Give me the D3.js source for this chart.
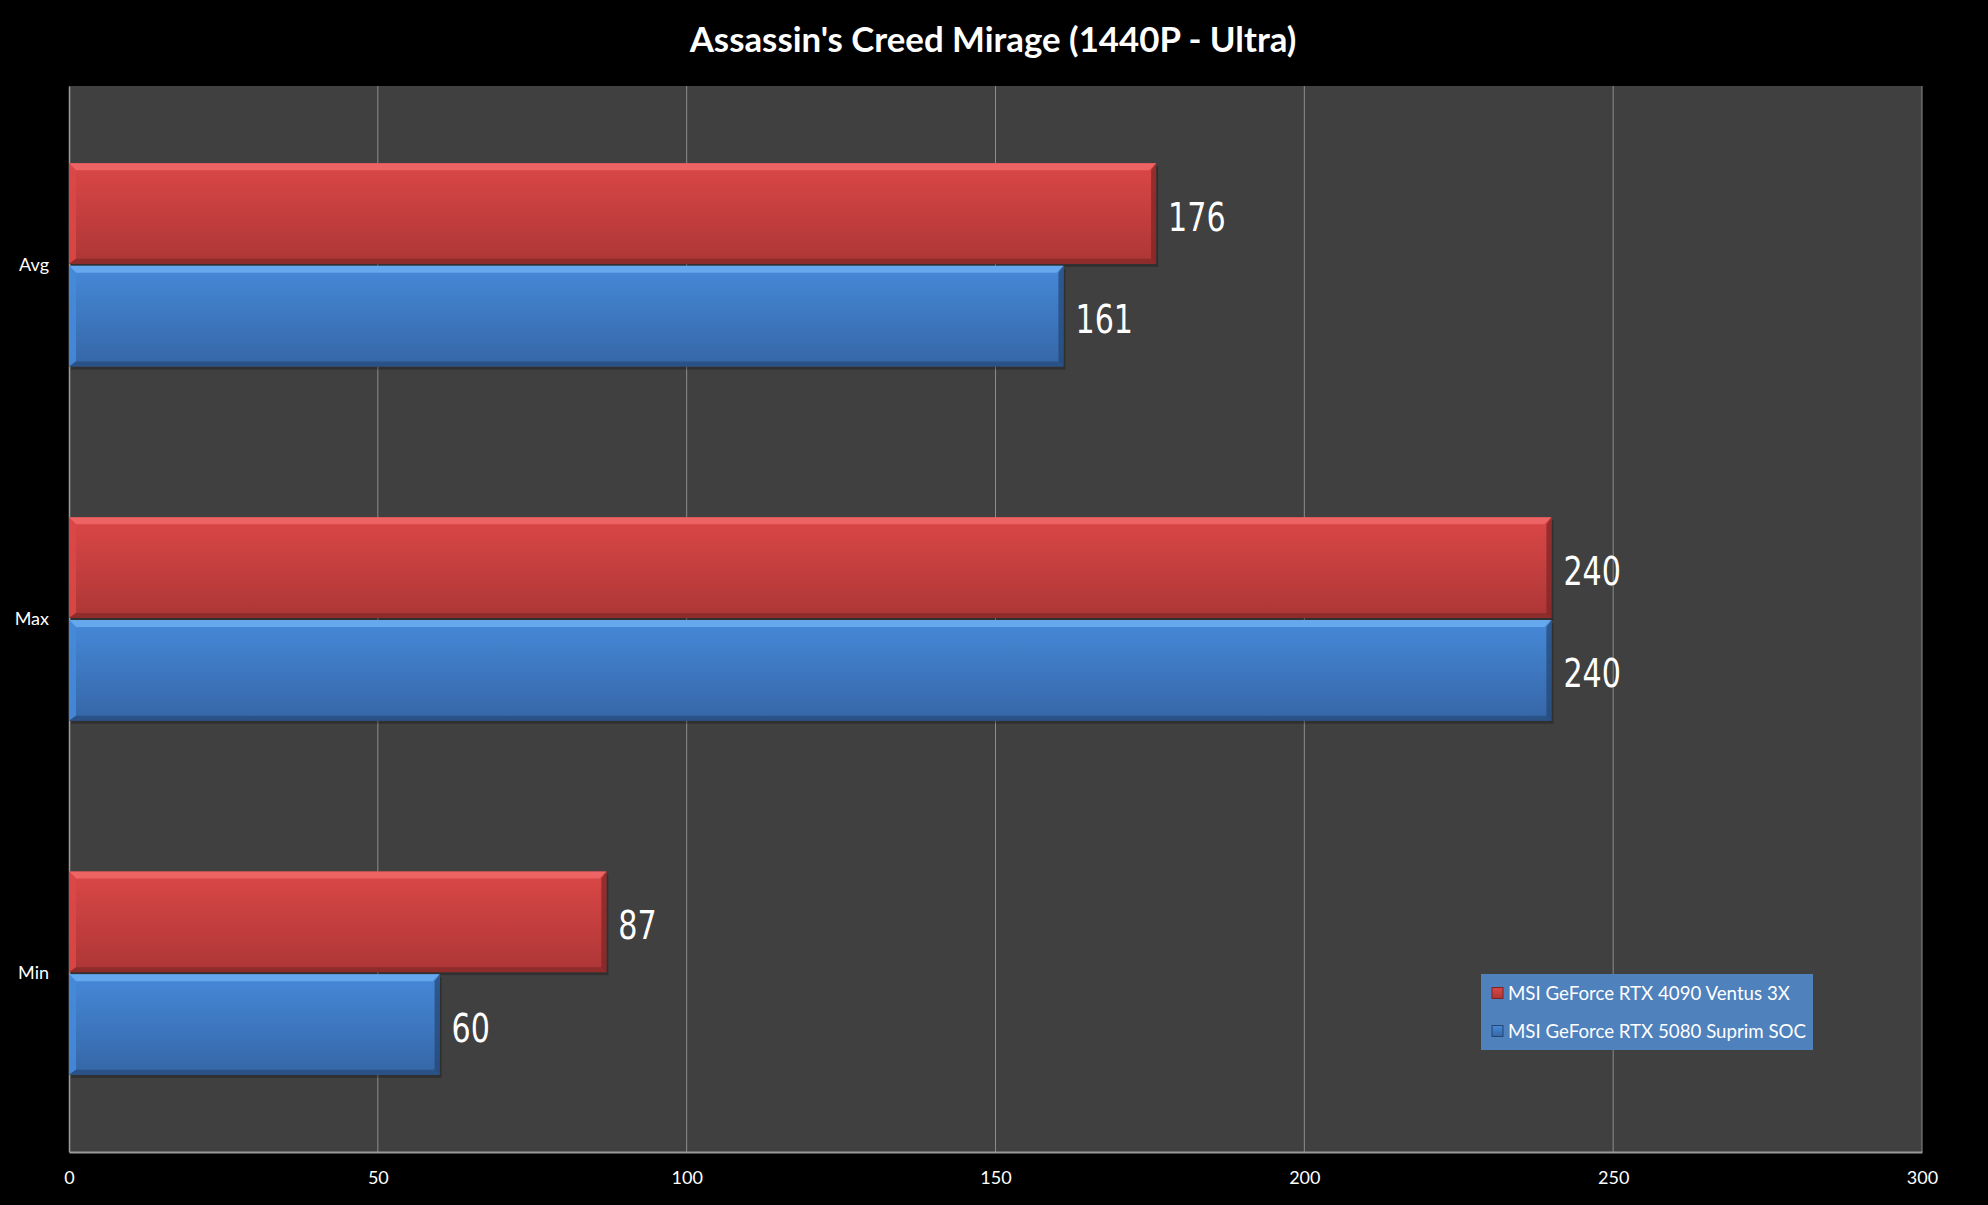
<!DOCTYPE html>
<html>
<head>
<meta charset="utf-8">
<script src="https://cdn.jsdelivr.net/npm/d3@7"></script>
<style>
  body { margin: 0; background: #000; }
  svg { display: block; }
</style>
</head>
<body>
<div id="chart"></div>
<script>
// chart data
const categories = ["Avg", "Max", "Min"];
const seriesNames = ["MSI GeForce RTX 4090 Ventus 3X", "MSI GeForce RTX 5080 Suprim SOC"];
const red4090 = [176, 240, 87];
const blue5080 = [161, 240, 60];
const xTicks = [0, 50, 100, 150, 200, 250, 300];

const W = 1988, H = 1205;
const margin = {top: 86, right: 66, bottom: 53, left: 69};
const width = W - margin.left - margin.right;
const height = H - margin.top - margin.bottom;

const svg = d3.select("#chart")
    .append("svg")
    .attr("width", W)
    .attr("height", H);

svg.append("rect").attr("width", W).attr("height", H).attr("fill", "#000");

// gradients for the bevelled bars
const defs = svg.append("defs");
const palettes = [
    {id: "gRed", top: "#db4747", bottom: "#ad3636", light: "#f26a6a", dark: "#7a2424"},
    {id: "gBlue", top: "#4689d9", bottom: "#3566a6", light: "#6eb0f2", dark: "#24456f"}
];
palettes.forEach(p => {
    const g = defs.append("linearGradient").attr("id", p.id)
        .attr("x1", 0).attr("x2", 0).attr("y1", 0).attr("y2", 1);
    g.append("stop").attr("offset", "0%").attr("stop-color", p.top);
    g.append("stop").attr("offset", "100%").attr("stop-color", p.bottom);
});

// title
svg.append("text")
    .attr("x", 993)
    .attr("y", 52)
    .attr("text-anchor", "middle")
    .attr("fill", "#fff")
    .style("font-family", "Lato, 'Open Sans', sans-serif")
    .style("font-weight", "bold")
    .style("font-size", "34.8px")
    .text("Assassin's Creed Mirage (1440P - Ultra)");

const g = svg.append("g")
    .attr("transform", `translate(${margin.left},${margin.top})`);

// plot background
g.append("rect")
    .attr("width", width)
    .attr("height", height)
    .attr("fill", "#404040");

// scales
const x = d3.scaleLinear()
    .domain([0, 300])
    .range([0, width]);

const y = d3.scaleBand()
    .domain(categories)
    .range([0, height])
    .paddingInner(0.42)
    .paddingOuter(0.215);

const ySub = d3.scaleBand()
    .domain([0, 1])
    .range([0, y.bandwidth()]);

// gridlines
g.selectAll(".grid")
    .data(xTicks.slice(1))
    .join("line")
    .attr("class", "grid")
    .attr("x1", d => x(d))
    .attr("x2", d => x(d))
    .attr("y1", 0)
    .attr("y2", height)
    .attr("stroke", "#8c8c8c")
    .attr("stroke-width", 1);

// X axis
const xAxis = g.append("g")
    .attr("transform", `translate(0,${height})`)
    .call(d3.axisBottom(x).tickValues(xTicks).tickSize(0).tickPadding(19));
xAxis.select(".domain").attr("stroke", "#9a9a9a").attr("stroke-width", 2);
xAxis.selectAll("text")
    .attr("fill", "#fff")
    .style("font-family", "Lato, sans-serif")
    .style("font-size", "18px");

// Y axis
const yAxis = g.append("g")
    .call(d3.axisLeft(y).tickSize(0).tickPadding(20));
yAxis.select(".domain").attr("stroke", "#9a9a9a").attr("stroke-width", 1.5);
yAxis.selectAll("text")
    .attr("fill", "#fff")
    .style("font-family", "Lato, sans-serif")
    .style("font-size", "18px");

// bars
const rows = categories.map((c, i) => ({cat: c, vals: [red4090[i], blue5080[i]]}));
const bars = [];
rows.forEach(r => r.vals.forEach((v, s) => bars.push({cat: r.cat, s, v})));

const barG = g.selectAll(".bar")
    .data(bars)
    .join("g")
    .attr("class", "bar")
    .attr("transform", d => `translate(0,${y(d.cat) + ySub(d.s) + 1})`);

const bh = ySub.bandwidth() - 2;

// soft shadow
barG.append("rect")
    .attr("x", 2)
    .attr("y", 3)
    .attr("width", d => x(d.v))
    .attr("height", bh)
    .attr("fill", "#000")
    .attr("opacity", 0.25);

barG.append("rect")
    .attr("x", 0)
    .attr("y", 0)
    .attr("width", d => x(d.v))
    .attr("height", bh)
    .attr("fill", d => `url(#${palettes[d.s].id})`);

// bevel: light top strip, dark right edge and bottom edge
barG.append("path")
    .attr("d", d => `M0,0 H${x(d.v)} L${x(d.v) - 7},7 H7 Z`)
    .attr("fill", d => palettes[d.s].light)
    .attr("opacity", 0.8);
barG.append("path")
    .attr("d", d => `M0,0 L7,7 V${bh - 5} L0,${bh} Z`)
    .attr("fill", d => palettes[d.s].top)
    .attr("opacity", 0.9);
barG.append("path")
    .attr("d", d => `M${x(d.v)},0 V${bh} L${x(d.v) - 5},${bh - 5} V7 Z`)
    .attr("fill", d => palettes[d.s].dark)
    .attr("opacity", 0.7);
barG.append("path")
    .attr("d", d => `M0,${bh} H${x(d.v)} L${x(d.v) - 5},${bh - 5} H7 Z`)
    .attr("fill", d => palettes[d.s].dark)
    .attr("opacity", 0.6);

// value labels (condensed look)
barG.append("text")
    .attr("transform", d => `translate(${x(d.v) + 12},${bh / 2 + 3}) scale(0.86,1)`)
    .attr("dy", "0.36em")
    .attr("fill", "#fff")
    .style("font-family", "'Liberation Sans Narrow', 'DejaVu Sans Condensed', sans-serif")
    .style("font-size", "39px")
    .text(d => d.v);

// legend
const legend = svg.append("g").attr("transform", "translate(1481,974)");
legend.append("rect")
    .attr("width", 332)
    .attr("height", 76)
    .attr("fill", "#4f81bd");

const li = legend.selectAll(".li")
    .data(seriesNames)
    .join("g")
    .attr("class", "li")
    .attr("transform", (d, i) => `translate(11,${19 + i * 38})`);

li.append("rect")
    .attr("x", 0)
    .attr("y", -5.5)
    .attr("width", 11)
    .attr("height", 11)
    .attr("fill", (d, i) => `url(#${palettes[i].id})`)
    .attr("stroke", (d, i) => palettes[i].dark)
    .attr("stroke-width", 1);

li.append("text")
    .attr("x", 16)
    .attr("dy", "0.36em")
    .attr("fill", "#fff")
    .style("font-family", "Lato, sans-serif")
    .style("font-size", "18.7px")
    .text(d => d);
</script>
</body>
</html>
